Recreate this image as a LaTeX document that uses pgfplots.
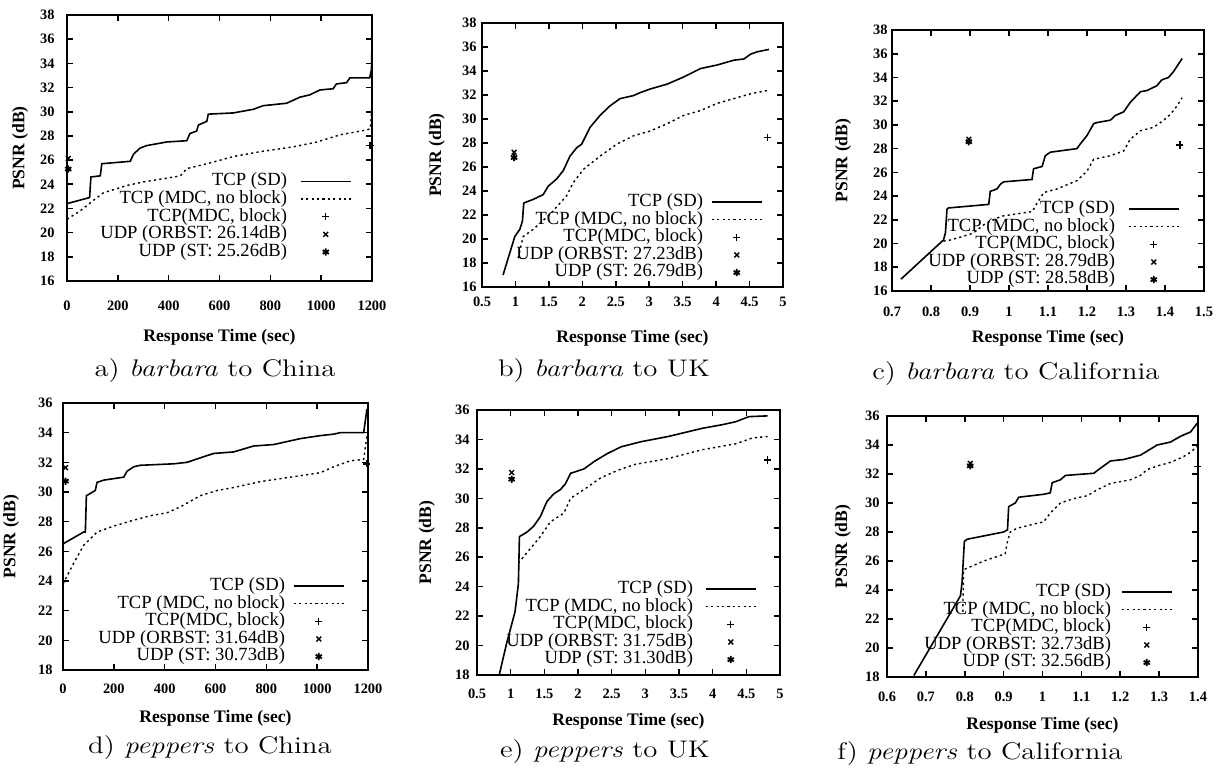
\documentclass[border=0pt]{standalone}
\usepackage{fontspec}
\usepackage{graphicx}
\usepackage{pgfplots}
\pgfplotsset{compat=1.18}
\newfontfamily\tnr{Liberation Serif}
\newcommand\tickfont{\tnr\bfseries\fontsize{7.2}{8}\selectfont}
\newcommand\labfont{\tnr\bfseries\fontsize{8.8}{10}\selectfont}
\newcommand\legfont{\tnr\fontsize{9.3}{10}\selectfont}
\newcommand\capfont{\fontsize{12}{14}\selectfont}
\pgfplotsset{
  psnr/.style={
    scale only axis, anchor=south west, clip=false, enlargelimits=false,
    axis line style={line width=1pt},
    tick style={line width=0.8pt, black},
    major tick length=3pt, tick align=inside,
    /pgf/number format/assume math mode=true,
    /pgf/number format/1000 sep={},
    ticklabel style={font=\tickfont, inner sep=0pt},
    xticklabel style={anchor=center},
    yticklabel style={anchor=east},
    label style={font=\labfont},
    xlabel={Response Time (sec)},
    ylabel={PSNR (dB)},
    xlabel style={at={(axis description cs:0.5,0)}, anchor=center},
    legend plot pos=right,
    legend cell align=right,
    legend style={at={(1,0)}, anchor=south east, draw=none, fill=none,
      inner sep=0pt, row sep=0pt, column sep=5pt, font=\legfont,
      nodes={inner sep=0pt, text height=6.6pt, text depth=2.2pt}},
  },
  sd/.style={black, line width=0.8pt, mark=none,
    legend image code/.code={\coordinate (la) at (0pt,-2pt); \coordinate (lb) at (25pt,2pt);
      \draw[line width=0.8pt] (0pt,0pt) -- (25pt,0pt);}},
  mdc/.style={black, line width=0.7pt, mark=none, dash pattern=on 1.1pt off 1.6pt,
    legend image code/.code={\coordinate (la) at (0pt,-2pt); \coordinate (lb) at (25pt,2pt);
      \draw[line width=0.7pt, dash pattern=on 1.1pt off 1.6pt] (0pt,0pt) -- (25pt,0pt);}},
  blk/.style={black, only marks, mark=+, mark size=1.8pt, line width=0.7pt,
    legend image code/.code={\coordinate (la) at (0pt,-2pt); \coordinate (lb) at (25pt,2pt);
      \draw[line width=0.7pt, mark=+, mark size=1.8pt] plot coordinates {(12.5pt,0pt)};}},
  orb/.style={black, only marks, mark=x, mark size=1.7pt, line width=0.7pt,
    legend image code/.code={\coordinate (la) at (0pt,-2pt); \coordinate (lb) at (25pt,2pt);
      \draw[line width=0.7pt, mark=x, mark size=1.7pt] plot coordinates {(12.5pt,0pt)};}},
  stm/.style={black, only marks, mark=asterisk, mark size=1.8pt, line width=0.9pt,
    legend image code/.code={\coordinate (la) at (0pt,-2pt); \coordinate (lb) at (25pt,2pt);
      \draw[line width=0.9pt, mark=asterisk, mark size=1.8pt] plot coordinates {(12.5pt,0pt)};}},
}
\begin{document}
\begin{tikzpicture}
\path[use as bounding box] (0,0) rectangle (611.5pt,388.5pt);

% ---------------- a) barbara to China
\begin{axis}[psnr, at={(33.5pt,248pt)}, width=152.5pt, height=133pt,
  xmin=0, xmax=1200, ymin=16, ymax=38,
  xtick={0,200,400,600,800,1000,1200}, ytick={16,18,...,38},
  xticklabel style={yshift=-12.5pt}, yticklabel style={xshift=-6pt},
  xlabel style={yshift=-28pt},
  ylabel style={at={(axis description cs:-0.154,0.5)}, anchor=center},
  legend style={xshift=-10pt, yshift=9.9pt, column sep=6.5pt}]
\addplot[sd] coordinates {(0,22.4) (89,22.9) (94,24.6) (131,24.7) (137,25.7) (249,25.9) (262,26.5) (288,27.0) (314,27.2) (393,27.5) (471,27.6) (484,28.2) (510,28.4) (517,28.9) (550,29.2) (556,29.8) (654,29.9) (733,30.2) (772,30.5) (864,30.7) (916,31.2) (956,31.4) (995,31.8) (1047,31.9) (1060,32.3) (1100,32.4) (1113,32.8) (1191,32.8) (1198,33.5) (1200,35.6)};
\addlegendentry{TCP (SD)}
\addplot[mdc] coordinates {(0,21.1) (52,21.8) (118,22.9) (144,23.3) (236,23.9) (302,24.2) (420,24.6) (446,24.7) (472,25.3) (551,25.7) (656,26.3) (761,26.7) (892,27.1) (984,27.5) (1076,28.1) (1181,28.5) (1194,28.6) (1200,30.8)};
\addlegendentry{TCP (MDC, no block)}
\addplot[blk] coordinates {(1192,27.2)};
\addlegendentry{TCP(MDC, block)}
\addplot[orb] coordinates {(5,26.14)};
\addlegendentry{UDP (ORBST: 26.14dB)}
\addplot[stm] coordinates {(5,25.26)};
\addlegendentry{UDP (ST: 25.26dB)}
\end{axis}

% ---------------- b) barbara to UK
\begin{axis}[psnr, at={(241pt,245pt)}, width=150.5pt, height=132pt,
  xmin=0.5, xmax=5, ymin=16, ymax=38,
  xtick={0.5,1,1.5,2,2.5,3,3.5,4,4.5,5}, ytick={16,18,...,38},
  xticklabel style={yshift=-7.5pt}, yticklabel style={xshift=-2.5pt},
  xlabel style={yshift=-25.5pt},
  ylabel style={at={(axis description cs:-0.15,0.5)}, anchor=center},
  legend style={xshift=-10pt, yshift=2.6pt, column sep=4pt}]
\addplot[sd] coordinates {(0.815,17.0) (0.99,20.2) (1.065,20.8) (1.105,21.5) (1.115,22.3) (1.125,23.0) (1.265,23.3) (1.415,23.7) (1.49,24.4) (1.615,25.0) (1.715,25.7) (1.815,26.9) (1.915,27.6) (1.99,27.9) (2.115,29.3) (2.265,30.3) (2.415,31.1) (2.565,31.7) (2.765,31.95) (2.865,32.2) (3.015,32.5) (3.265,32.9) (3.515,33.5) (3.765,34.2) (4.015,34.5) (4.265,34.9) (4.415,35.0) (4.515,35.4) (4.615,35.6) (4.79,35.8)};
\addlegendentry{TCP (SD)}
\addplot[mdc] coordinates {(1.04,18.4) (1.115,20.2) (1.265,20.8) (1.515,22.05) (1.765,23.6) (1.865,24.7) (2.015,25.8) (2.265,26.9) (2.515,27.9) (2.765,28.6) (3.015,29.0) (3.265,29.6) (3.515,30.3) (3.765,30.7) (4.015,31.3) (4.265,31.7) (4.515,32.1) (4.79,32.4)};
\addlegendentry{TCP (MDC, no block)}
\addplot[blk] coordinates {(4.77,28.46)};
\addlegendentry{TCP(MDC, block)}
\addplot[orb] coordinates {(0.98,27.23)};
\addlegendentry{UDP (ORBST: 27.23dB)}
\addplot[stm] coordinates {(0.98,26.79)};
\addlegendentry{UDP (ST: 26.79dB)}
\end{axis}

% ---------------- c) barbara to California
\begin{axis}[psnr, at={(446pt,243pt)}, width=156pt, height=130.5pt,
  xmin=0.7, xmax=1.5, ymin=16, ymax=38,
  xtick={0.7,0.8,0.9,1,1.1,1.2,1.3,1.4,1.5}, ytick={16,18,...,38},
  xticklabel style={yshift=-10.5pt}, yticklabel style={xshift=-2pt},
  xlabel style={yshift=-23.5pt},
  ylabel style={at={(axis description cs:-0.157,0.5)}, anchor=center},
  legend style={xshift=-12pt, yshift=1.1pt, column sep=6.5pt}]
\addplot[sd] coordinates {(0.723,17.0) (0.832,20.3) (0.837,20.9) (0.841,22.9) (0.845,23.0) (0.948,23.3) (0.952,24.4) (0.969,24.6) (0.978,25.0) (0.986,25.2) (1.059,25.4) (1.063,26.3) (1.085,26.5) (1.093,27.4) (1.106,27.7) (1.174,28.0) (1.183,28.4) (1.2,29.1) (1.217,30.1) (1.226,30.2) (1.26,30.4) (1.273,30.8) (1.294,31.1) (1.311,31.9) (1.337,32.8) (1.354,32.9) (1.379,33.3) (1.392,33.8) (1.409,34.0) (1.422,34.5) (1.444,35.6)};
\addlegendentry{TCP (SD)}
\addplot[mdc] coordinates {(0.832,20.2) (0.85,20.3) (0.897,20.75) (0.909,20.9) (0.94,21.7) (0.98,22.3) (1.06,22.7) (1.07,23.3) (1.089,24.3) (1.123,24.6) (1.174,25.3) (1.2,26.1) (1.217,27.1) (1.26,27.4) (1.294,27.8) (1.311,28.8) (1.337,29.5) (1.371,29.8) (1.397,30.4) (1.414,30.9) (1.431,31.6) (1.444,32.3)};
\addlegendentry{TCP (MDC, no block)}
\addplot[blk] coordinates {(1.438,28.3)};
\addlegendentry{TCP(MDC, block)}
\addplot[orb] coordinates {(0.897,28.79)};
\addlegendentry{UDP (ORBST: 28.79dB)}
\addplot[stm] coordinates {(0.897,28.58)};
\addlegendentry{UDP (ST: 28.58dB)}
\end{axis}

% ---------------- d) peppers to China
\begin{axis}[psnr, at={(31.5pt,53.5pt)}, width=152.5pt, height=133.5pt,
  xmin=0, xmax=1200, ymin=18, ymax=36,
  xtick={0,200,400,600,800,1000,1200}, ytick={18,20,...,36},
  xticklabel style={yshift=-9.5pt}, yticklabel style={xshift=-5pt},
  xlabel style={yshift=-24pt},
  ylabel style={at={(axis description cs:-0.17,0.5)}, anchor=center},
  legend style={xshift=-11.5pt, yshift=2.1pt, column sep=4pt}]
\addplot[sd] coordinates {(0,26.5) (81,27.3) (88,27.3) (92,29.75) (127,30.1) (134,30.65) (160,30.8) (239,31.0) (252,31.4) (278,31.7) (304,31.8) (435,31.9) (488,32.0) (540,32.3) (593,32.6) (671,32.7) (750,33.1) (829,33.2) (934,33.6) (1012,33.8) (1065,33.9) (1091,34.0) (1183,34.0) (1196,35.6)};
\addlegendentry{TCP (SD)}
\addplot[mdc] coordinates {(0,23.8) (42,25.2) (81,26.4) (134,27.3) (199,27.7) (278,28.1) (344,28.4) (409,28.6) (462,29.0) (514,29.5) (540,29.75) (606,30.1) (671,30.3) (776,30.7) (934,31.1) (1012,31.3) (1065,31.7) (1130,32.1) (1183,32.2) (1196,33.8)};
\addlegendentry{TCP (MDC, no block)}
\addplot[blk] coordinates {(1195,31.9)};
\addlegendentry{TCP(MDC, block)}
\addplot[orb] coordinates {(10,31.64)};
\addlegendentry{UDP (ORBST: 31.64dB)}
\addplot[stm] coordinates {(10,30.73)};
\addlegendentry{UDP (ST: 30.73dB)}
\end{axis}

% ---------------- e) peppers to UK
\begin{axis}[psnr, at={(238.5pt,51pt)}, width=151.5pt, height=132.5pt,
  xmin=0.5, xmax=5, ymin=18, ymax=36,
  xtick={0.5,1,1.5,2,2.5,3,3.5,4,4.5,5}, ytick={18,20,...,36},
  xticklabel style={yshift=-9.5pt}, yticklabel style={xshift=-3.5pt},
  xlabel style={yshift=-23pt},
  ylabel style={at={(axis description cs:-0.165,0.5)}, anchor=center},
  legend style={xshift=-11.5pt, yshift=3.1pt, column sep=6pt}]
\addplot[sd] coordinates {(0.83,18.0) (0.94,20.15) (1.065,22.3) (1.115,24.2) (1.13,27.4) (1.24,27.7) (1.34,28.1) (1.44,28.75) (1.54,29.8) (1.64,30.3) (1.74,30.6) (1.815,31.0) (1.89,31.7) (2.09,32.0) (2.24,32.5) (2.44,33.05) (2.64,33.5) (2.94,33.85) (3.34,34.2) (3.84,34.75) (4.14,35.0) (4.34,35.2) (4.54,35.55) (4.815,35.6)};
\addlegendentry{TCP (SD)}
\addplot[mdc] coordinates {(1.115,25.6) (1.24,26.3) (1.44,27.4) (1.59,28.4) (1.79,29.0) (1.89,30.0) (2.09,30.6) (2.34,31.4) (2.59,31.9) (2.84,32.3) (3.34,32.7) (3.84,33.3) (4.34,33.7) (4.59,34.1) (4.815,34.2)};
\addlegendentry{TCP (MDC, no block)}
\addplot[blk] coordinates {(4.815,32.6)};
\addlegendentry{TCP(MDC, block)}
\addplot[orb] coordinates {(1.015,31.75)};
\addlegendentry{UDP (ORBST: 31.75dB)}
\addplot[stm] coordinates {(1.015,31.30)};
\addlegendentry{UDP (ST: 31.30dB)}
\end{axis}

% ---------------- f) peppers to California
\begin{axis}[psnr, at={(443.5pt,50pt)}, width=155.5pt, height=130.5pt,
  xmin=0.6, xmax=1.4, ymin=18, ymax=36,
  xtick={0.6,0.7,0.8,0.9,1,1.1,1.2,1.3,1.4}, ytick={18,20,...,36},
  xticklabel style={yshift=-10pt}, yticklabel style={xshift=-3.5pt},
  xlabel style={yshift=-24pt},
  ylabel style={at={(axis description cs:-0.1415,0.5)}, anchor=center},
  legend style={xshift=-12.5pt, yshift=2.6pt, column sep=5pt}]
\addplot[sd] coordinates {(0.669,18.1) (0.789,23.6) (0.793,24.5) (0.799,27.35) (0.806,27.5) (0.9,28.0) (0.91,28.15) (0.913,29.75) (0.93,30.0) (0.939,30.4) (1.003,30.6) (1.02,30.7) (1.025,31.4) (1.046,31.6) (1.059,31.9) (1.132,32.05) (1.149,32.4) (1.175,32.9) (1.209,33.0) (1.252,33.3) (1.295,34.0) (1.329,34.2) (1.355,34.6) (1.381,34.9) (1.398,35.5)};
\addlegendentry{TCP (SD)}
\addplot[mdc] coordinates {(0.795,22.5) (0.797,25.4) (0.849,26.0) (0.904,26.5) (0.91,27.35) (0.917,28.0) (0.934,28.25) (0.986,28.6) (1.003,28.7) (1.02,29.3) (1.046,30.0) (1.08,30.3) (1.115,30.5) (1.14,30.9) (1.175,31.35) (1.226,31.6) (1.252,31.9) (1.269,32.3) (1.295,32.55) (1.329,32.8) (1.363,33.2) (1.381,33.5) (1.398,33.9)};
\addlegendentry{TCP (MDC, no block)}
\addplot[blk] coordinates {(1.398,32.5)};
\addlegendentry{TCP(MDC, block)}
\addplot[orb] coordinates {(0.814,32.73)};
\addlegendentry{UDP (ORBST: 32.73dB)}
\addplot[stm] coordinates {(0.814,32.56)};
\addlegendentry{UDP (ST: 32.56dB)}
\end{axis}

% ---------------- captions
\node[anchor=base] at (107.5pt,200pt) {\capfont\scalebox{1.2}[1]{a) \textit{barbara} to China}};
\node[anchor=base] at (302pt,200pt) {\capfont\scalebox{1.2}[1]{b) \textit{barbara} to UK}};
\node[anchor=base] at (508pt,198.5pt) {\capfont\scalebox{1.2}[1]{c) \textit{barbara} to California}};
\node[anchor=base] at (105pt,11.5pt) {\capfont\scalebox{1.2}[1]{d) \textit{peppers} to China}};
\node[anchor=base] at (302.5pt,9.5pt) {\capfont\scalebox{1.2}[1]{e) \textit{peppers} to UK}};
\node[anchor=base] at (490pt,8.5pt) {\capfont\scalebox{1.2}[1]{f) \textit{peppers} to California}};
\end{tikzpicture}
\end{document}
